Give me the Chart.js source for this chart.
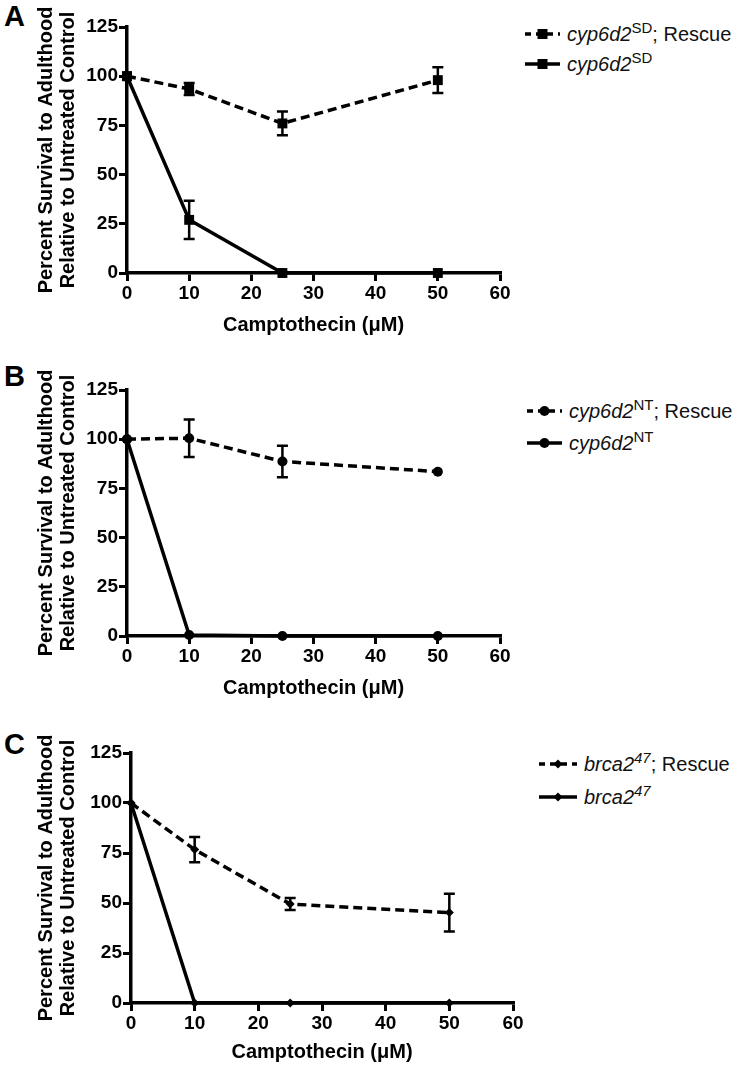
<!DOCTYPE html>
<html>
<head>
<meta charset="utf-8">
<script src="https://cdn.jsdelivr.net/npm/chart.js@4.4.1/dist/chart.umd.min.js"></script>
<style>
  html, body { margin: 0; padding: 0; background: #fff; }
  body { width: 738px; height: 1066px; position: relative; overflow: hidden;
         font-family: 'Liberation Sans', Arial, sans-serif; color: #000; }
  canvas { position: absolute; left: 0; }
  .panel-letter { position: absolute; left: 4px; font-weight: bold; font-size: 29px; line-height: 1; }
  .legend-row { position: absolute; height: 26px; display: flex; align-items: center;
                font-size: 20px; white-space: nowrap; color: #111; }
  .legend-row svg { flex: none; }
  .legend-row i { font-style: italic; }
  .legend-row sup { font-size: 15px; vertical-align: 8px; line-height: 0; }
</style>
</head>
<body>
<div class="panel-letter" style="top:2px">A</div>
<div class="panel-letter" style="top:362px">B</div>
<div class="panel-letter" style="top:730px">C</div>
<canvas id="chartA" width="525" height="345" style="top:0px"></canvas>
<canvas id="chartB" width="525" height="345" style="top:363px"></canvas>
<canvas id="chartC" width="538" height="340" style="top:726px"></canvas>
<div id="legends"></div>

<script>
// doses (x) and axis ticks
const doses = [0, 10, 25, 50];
const xTicks = [0, 10, 20, 30, 40, 50, 60];
const yTicks = [0, 25, 50, 75, 100, 125];

// panel A: cyp6d2 SD
const rescueA = [100, 93.5, 76, 98];
const rescueAErr = [0, 3, 6, 6.5];
const mutantA = [100, 27, 0, 0];
const mutantAErr = [0, 9.7, 0, 0];

// panel B: cyp6d2 NT
const rescueB = [100, 100.5, 88.7, 83.5];
const rescueBErr = [0, 9.5, 8, 0];
const mutantB = [100, 0.5, 0, 0];
const mutantBErr = [0, 0, 0, 0];

// panel C: brca2 47
const rescueC = [100, 76.7, 49.5, 45.2];
const rescueCErr = [0, 6.3, 3, 9.4];
const mutantC = [100, 0, 0, 0];
const mutantCErr = [0, 0, 0, 0];

const FONT = "'Liberation Sans', Arial, sans-serif";
Chart.defaults.font.family = FONT;
Chart.defaults.color = '#000';

// error bars drawn through the chart scales
const errorBarPlugin = {
    id: 'errorBars',
    beforeDatasetsDraw(chart) {
        const ctx = chart.ctx;
        const xs = chart.scales.x, ys = chart.scales.y;
        ctx.save();
        ctx.strokeStyle = '#000';
        ctx.lineWidth = 2.5;
        chart.data.datasets.forEach(ds => {
            if (!ds.errorBars) return;
            ds.data.forEach((p, i) => {
                const e = ds.errorBars[i];
                if (!e) return;
                const x = xs.getPixelForValue(p.x);
                const yt = ys.getPixelForValue(p.y + e);
                const yb = ys.getPixelForValue(p.y - e);
                ctx.beginPath();
                ctx.moveTo(x, yt); ctx.lineTo(x, yb);
                ctx.moveTo(x - 5.5, yt); ctx.lineTo(x + 5.5, yt);
                ctx.moveTo(x - 5.5, yb); ctx.lineTo(x + 5.5, yb);
                ctx.stroke();
            });
        });
        ctx.restore();
    }
};

function pts(values) {
    return doses.map((d, i) => ({ x: d, y: values[i] }));
}

function makePanel(id, cfg) {
    const common = {
        borderColor: '#000', backgroundColor: '#000',
        pointBackgroundColor: '#000', pointBorderColor: '#000', pointBorderWidth: 0,
        pointStyle: cfg.pointStyle, pointRadius: cfg.pointRadius, pointHoverRadius: cfg.pointRadius,
        borderWidth: 3.5, tension: 0, clip: false, fill: false
    };
    return new Chart(document.getElementById(id), {
        type: 'line',
        data: {
            datasets: [
                Object.assign({}, common, { label: 'rescue', data: pts(cfg.rescue), errorBars: cfg.rescueErr, borderDash: [9, 5] }),
                Object.assign({}, common, { label: 'mutant', data: pts(cfg.mutant), errorBars: cfg.mutantErr })
            ]
        },
        options: {
            responsive: false,
            animation: false,
            events: [],
            layout: { padding: { top: 27, right: 25, left: 0, bottom: 0 } },
            plugins: { legend: { display: false }, tooltip: { enabled: false } },
            scales: {
                x: {
                    type: 'linear',
                    min: xTicks[0], max: xTicks[xTicks.length - 1],
                    afterBuildTicks: s => { s.ticks = xTicks.map(v => ({ value: v })); },
                    afterFit: s => { s.height = cfg.xAxisHeight; },
                    border: { display: true, color: '#000', width: 3.5 },
                    grid: { drawOnChartArea: false, drawTicks: true, tickLength: 8, color: '#000', lineWidth: 3 },
                    ticks: { font: { size: 19, weight: 'bold' }, color: '#000', padding: 1, maxRotation: 0, autoSkip: false },
                    title: {
                        display: true, text: 'Camptothecin (\u03bcM)', color: '#000',
                        font: { size: 20, weight: 'bold' }, padding: { top: 0, bottom: cfg.xTitlePad }
                    }
                },
                y: {
                    type: 'linear',
                    min: yTicks[0], max: yTicks[yTicks.length - 1],
                    afterBuildTicks: s => { s.ticks = yTicks.map(v => ({ value: v })); },
                    afterFit: s => { s.width = cfg.yAxisWidth; },
                    border: { display: true, color: '#000', width: 3.5 },
                    grid: { drawOnChartArea: false, drawTicks: true, tickLength: 8, color: '#000', lineWidth: 3 },
                    ticks: { font: { size: 19, weight: 'bold' }, color: '#000', padding: 1 },
                    title: {
                        display: true,
                        text: ['Percent Survival to Adulthood', 'Relative to Untreated Control'],
                        color: '#000',
                        font: { size: 20, weight: 'bold', lineHeight: 1.1 },
                        padding: { top: 35, bottom: 0 }
                    }
                }
            }
        },
        plugins: [errorBarPlugin]
    });
}

makePanel('chartA', { rescue: rescueA, rescueErr: rescueAErr, mutant: mutantA, mutantErr: mutantAErr,
    pointStyle: 'rect', pointRadius: 7, yAxisWidth: 127, xAxisHeight: 72, xTitlePad: 8 });
makePanel('chartB', { rescue: rescueB, rescueErr: rescueBErr, mutant: mutantB, mutantErr: mutantBErr,
    pointStyle: 'circle', pointRadius: 5, yAxisWidth: 127, xAxisHeight: 72, xTitlePad: 8 });
makePanel('chartC', { rescue: rescueC, rescueErr: rescueCErr, mutant: mutantC, mutantErr: mutantCErr,
    pointStyle: 'rectRot', pointRadius: 4.5, yAxisWidth: 131, xAxisHeight: 63, xTitlePad: 2 });

// legends (html so the gene names can be italic with superscripts)
function marker(style, cx, cy) {
    if (style === 'rect') return `<rect x="${cx - 5}" y="${cy - 5}" width="10" height="10" fill="#000"/>`;
    if (style === 'circle') return `<circle cx="${cx}" cy="${cy}" r="5" fill="#000"/>`;
    return `<path d="M${cx - 4.5} ${cy} L${cx} ${cy - 4.5} L${cx + 4.5} ${cy} L${cx} ${cy + 4.5} Z" fill="#000"/>`;
}
function legendRow(left, cy, w, dashed, style, html) {
    const svg = `<svg width="${w}" height="14" viewBox="0 0 ${w} 14">
        <line x1="0" y1="7" x2="${w}" y2="7" stroke="#000" stroke-width="3.5" ${dashed ? 'stroke-dasharray="6 5"' : ''}/>
        ${marker(style, w / 2, 7)}</svg>`;
    return `<div class="legend-row" style="left:${left}px;top:${cy - 13}px">${svg}<span style="margin-left:7px">${html}</span></div>`;
}
const legendEl = document.getElementById('legends');
legendEl.innerHTML =
    legendRow(525, 34, 35, true, 'rect', '<i>cyp6d2</i><sup>SD</sup>; Rescue') +
    legendRow(525, 64, 35, false, 'rect', '<i>cyp6d2</i><sup>SD</sup>') +
    legendRow(527, 411, 35, true, 'circle', '<i>cyp6d2</i><sup>NT</sup>; Rescue') +
    legendRow(527, 443, 35, false, 'circle', '<i>cyp6d2</i><sup>NT</sup>') +
    legendRow(539, 764, 38, true, 'diamond', '<i>brca2</i><sup><i>47</i></sup>; Rescue') +
    legendRow(539, 797, 38, false, 'diamond', '<i>brca2</i><sup><i>47</i></sup>');
</script>
</body>
</html>
